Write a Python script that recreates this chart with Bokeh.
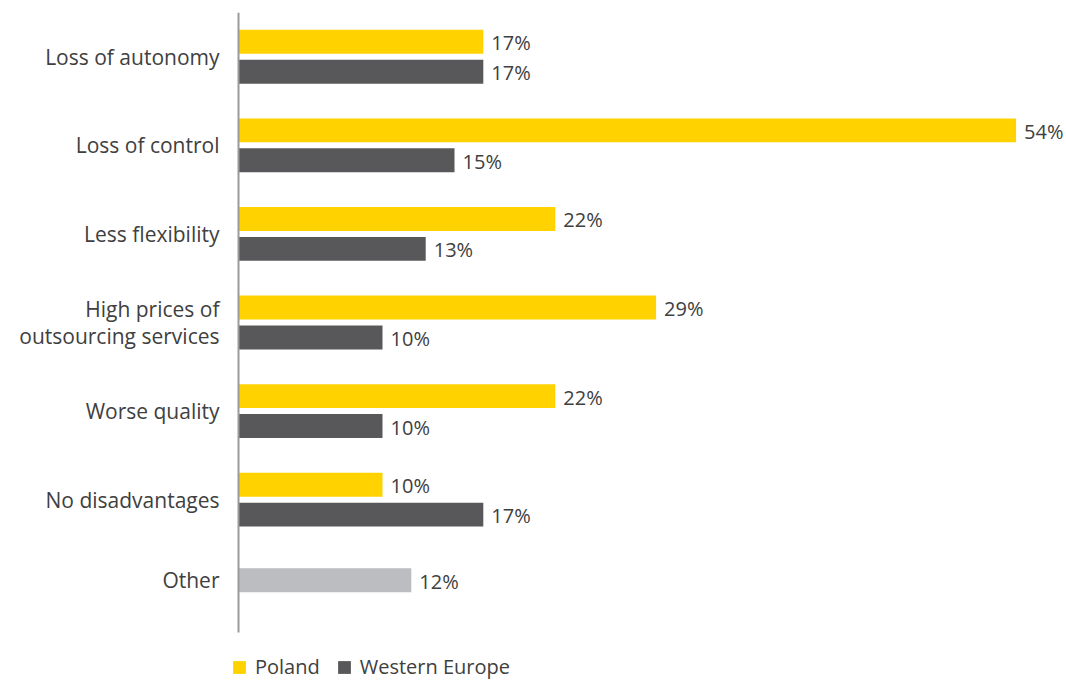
from bokeh.plotting import figure
from bokeh.models import Range1d, ColumnDataSource, FixedTicker, Legend, LegendItem
from bokeh.core.properties import value
from bokeh.embed import file_html
from bokeh.resources import INLINE

categories = ["Loss of autonomy", "Loss of control", "Less flexibility",
              "High prices of\noutsourcing services", "Worse quality", "No disadvantages"]
poland = [17, 54, 22, 29, 22, 10]
western_europe = [17, 15, 13, 10, 10, 17]
other_label = "Other"
other_value = 12

FONT = "Open Sans"
TXT = "#404040"
YEL = "#FFD200"
DGR = "#58585A"
LGR = "#BCBDC0"

centers = [i + 0.5 for i in range(len(categories))]
other_pos = 6.41
off = 0.169
bh = 0.27

p = figure(width=1066, height=680, output_backend="svg", toolbar_location=None,
           x_range=Range1d(-0.556, 57.5), y_range=Range1d(7.542, 0),
           min_border_left=230, min_border_right=0, min_border_top=12, min_border_bottom=0)
p.outline_line_color = None
p.grid.visible = False
p.xaxis.visible = False

src_p = ColumnDataSource(dict(y=[c - off for c in centers], v=poland,
                              t=[f"{v}%" for v in poland]))
src_w = ColumnDataSource(dict(y=[c + off for c in centers], v=western_europe,
                              t=[f"{v}%" for v in western_europe]))
src_o = ColumnDataSource(dict(y=[other_pos], v=[other_value], t=[f"{other_value}%"]))

rp = p.hbar(y="y", right="v", left=0, height=bh, source=src_p, color=YEL, line_color=None)
rw = p.hbar(y="y", right="v", left=0, height=bh, source=src_w, color=DGR, line_color=None)
p.hbar(y="y", right="v", left=0, height=bh, source=src_o, color=LGR, line_color=None)

# vertical baseline
p.segment(x0=[0], y0=[0], x1=[0], y1=[7], line_color="#9a9a9a", line_width=2)

for s in (src_p, src_w, src_o):
    p.text(x="v", y="y", text="t", source=s, x_offset=8, y_offset=1,
           text_baseline="middle", text_align="left", text_color=TXT,
           text_font=value(FONT), text_font_size="20px")

ax = p.yaxis[0]
ax.ticker = FixedTicker(ticks=centers + [other_pos])
ax.major_label_overrides = {**{c: lab for c, lab in zip(centers, categories)}, other_pos: other_label}
ax.major_tick_line_color = None
ax.minor_tick_line_color = None
ax.axis_line_color = None
ax.major_label_text_font = FONT
ax.major_label_text_font_size = "21px"
ax.major_label_text_line_height = 0.95
ax.major_label_text_color = TXT
ax.major_label_standoff = 5

legend = Legend(items=[LegendItem(label="Poland", renderers=[rp]),
                       LegendItem(label="Western Europe", renderers=[rw])],
                orientation="horizontal", location=(1, 0),
                label_text_font=FONT, label_text_font_size="20px", label_text_color=TXT,
                glyph_width=16, glyph_height=16, spacing=16, label_standoff=8,
                background_fill_alpha=0, border_line_color=None, padding=0, margin=0)
p.add_layout(legend, "center")

open("out.html", "w").write(file_html(p, INLINE))
